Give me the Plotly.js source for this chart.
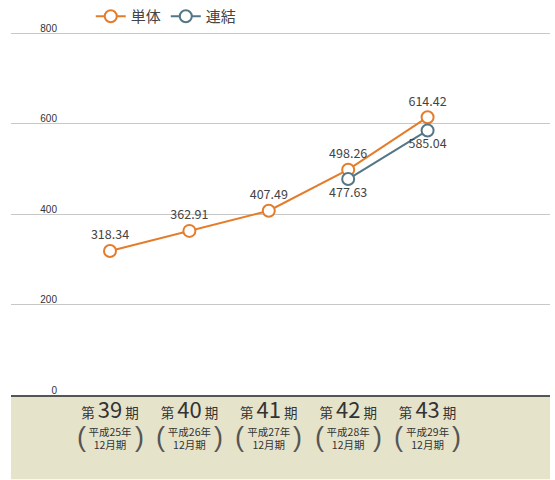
<!DOCTYPE html>
<html><head><meta charset="utf-8">
<script src="https://cdn.plot.ly/plotly-3.0.1.min.js"></script>
<style>body{margin:0;padding:0;background:#fff}#chart{width:555px;height:480px}</style>
</head><body><div id="chart"></div>
<script>
var periods = ['39','40','41','42','43'];
var eras = ['平成25年','平成26年','平成27年','平成28年','平成29年'];
var months = ['12月期','12月期','12月期','12月期','12月期'];
var tanTai = [318.34, 362.91, 407.49, 498.26, 614.42];
var renketsu = [null, null, null, 477.63, 585.04];
var yTicks = [0, 200, 400, 600, 800];

var idx = periods.map(function(p,i){return i;});
var fam = '"Noto Sans CJK JP", "Noto Sans", sans-serif';
var orange = '#E57C2A', slate = '#557684';

var tickText1 = periods.map(function(p){
  return "第 <span style='font-size:22px'>"+p+"</span> 期";
});
var tickText2 = eras.map(function(e,i){
  return "<span style='font-size:10.5px'>"+e+"</span><br><span style='font-size:10.5px'>"+months[i]+"</span>";
});

function fmt(v){return v==null?'':v.toFixed(2);}

var traces = [
 {x: idx, y: tanTai, name:'単体', type:'scatter', mode:'lines+markers+text',
  text: tanTai.map(fmt), textposition:'top center', cliponaxis:false,
  textfont:{size:12.5, color:'#444', family:fam},
  line:{color:orange, width:2},
  marker:{symbol:'circle', size:12, color:'#fff', line:{color:orange, width:2}}},
 {x: idx, y: renketsu, name:'連結', type:'scatter', mode:'lines+markers+text', xaxis:'x2',
  text: renketsu.map(fmt), textposition:'bottom center', cliponaxis:false,
  textfont:{size:12.5, color:'#444', family:fam},
  line:{color:slate, width:2},
  marker:{symbol:'circle', size:12, color:'#fff', line:{color:slate, width:2}}}
];

var ann = [];
idx.forEach(function(i){
  ann.push({x:i, xref:'x', y:-0.1165, yref:'paper', xshift:-29, text:'(', showarrow:false,
    font:{size:27, color:'#555', family:'"Liberation Sans", Arial, sans-serif'}, yanchor:'middle'});
  ann.push({x:i, xref:'x', y:-0.1165, yref:'paper', xshift:29, text:')', showarrow:false,
    font:{size:27, color:'#555', family:'"Liberation Sans", Arial, sans-serif'}, yanchor:'middle'});
});

var xr = [-1.247, 5.542];
var layout = {
  width:555, height:480,
  margin:{l:11, r:5, t:30.7, b:84.5, autoexpand:false},
  paper_bgcolor:'#fff', plot_bgcolor:'rgba(0,0,0,0)',
  font:{family:fam, color:'#333'},
  showlegend:true,
  legend:{orientation:'h', x:0.148, xanchor:'left', y:1.040, yanchor:'middle',
    font:{size:15, color:'#444', family:fam}, bgcolor:'rgba(0,0,0,0)', itemwidth:30},
  xaxis:{range:xr, tickmode:'array', tickvals:idx, ticktext:tickText1,
    showgrid:false, zeroline:false, showline:true, linecolor:'#555', linewidth:1.5,
    ticks:'', tickfont:{size:13.5, color:'#333', family:fam}, ticklabelstandoff:5, fixedrange:true},
  xaxis2:{range:xr, overlaying:'x', anchor:'y', side:'bottom', tickmode:'array', tickvals:idx, ticktext:tickText2,
    showgrid:false, zeroline:false, showline:false,
    ticks:'', tickfont:{size:10, color:'#333', family:fam}, ticklabelstandoff:30, fixedrange:true},
  yaxis:{range:[0,805], tickmode:'array', tickvals:yTicks, ticktext:yTicks.map(String),
    showgrid:true, gridcolor:'#c8c8c8', gridwidth:1, zeroline:false, showline:false,
    ticks:'', tickfont:{size:10, color:'#333', family:'"Liberation Sans", Arial, sans-serif'},
    ticklabelstandoff:-47, ticklabelshift:-5, fixedrange:true},
  shapes:[{type:'rect', xref:'paper', yref:'paper', x0:0, x1:1, y0:-0.2316, y1:0,
    fillcolor:'#E6E3CB', line:{width:0}, layer:'below'}],
  annotations: ann
};
Plotly.newPlot('chart', traces, layout, {displayModeBar:false, staticPlot:true});
</script></body></html>
